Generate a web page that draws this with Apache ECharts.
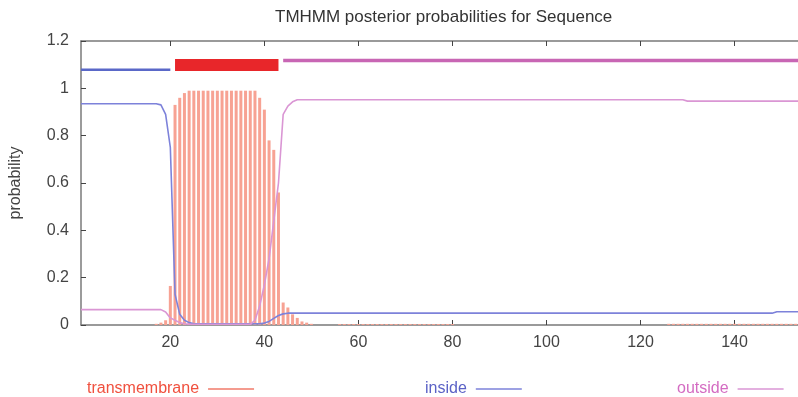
<!DOCTYPE html>
<html>
<head>
<meta charset="utf-8">
<script src="https://cdn.jsdelivr.net/npm/echarts@6/dist/echarts.min.js"></script>
<style>
  html, body { margin: 0; padding: 0; background: #fff; }
  #chart { width: 798px; height: 397px; }
</style>
</head>
<body>
<div id="chart"></div>
<script>
// tick labels on the sequence axis
const xTicks = [20, 40, 60, 80, 100, 120, 140]

// posterior probabilities, one value per residue (1..154)
const inside = [
  0.935, 0.935, 0.935, 0.935, 0.935, 0.935, 0.935, 0.935, 0.935, 0.935,
  0.935, 0.935, 0.935, 0.935, 0.935, 0.935, 0.935, 0.93, 0.89, 0.75,
  0.13, 0.045, 0.02, 0.01, 0.005, 0.005, 0.005, 0.005, 0.005, 0.005,
  0.005, 0.005, 0.005, 0.005, 0.005, 0.005, 0.005, 0.005, 0.005, 0.008,
  0.015, 0.028, 0.04, 0.047, 0.05, 0.05, 0.05, 0.05, 0.05, 0.05,
  0.05, 0.05, 0.05, 0.05, 0.05, 0.05, 0.05, 0.05, 0.05, 0.05,
  0.05, 0.05, 0.05, 0.05, 0.05, 0.05, 0.05, 0.05, 0.05, 0.05,
  0.05, 0.05, 0.05, 0.05, 0.05, 0.05, 0.05, 0.05, 0.05, 0.05,
  0.05, 0.05, 0.05, 0.05, 0.05, 0.05, 0.05, 0.05, 0.05, 0.05,
  0.05, 0.05, 0.05, 0.05, 0.05, 0.05, 0.05, 0.05, 0.05, 0.05,
  0.05, 0.05, 0.05, 0.05, 0.05, 0.05, 0.05, 0.05, 0.05, 0.05,
  0.05, 0.05, 0.05, 0.05, 0.05, 0.05, 0.05, 0.05, 0.05, 0.05,
  0.05, 0.05, 0.05, 0.05, 0.05, 0.05, 0.05, 0.05, 0.05, 0.05,
  0.05, 0.05, 0.05, 0.05, 0.05, 0.05, 0.05, 0.05, 0.05, 0.05,
  0.05, 0.05, 0.05, 0.05, 0.05, 0.05, 0.05, 0.05, 0.056, 0.056,
  0.056, 0.056, 0.056, 0.056
]

const outside = [
  0.065, 0.065, 0.065, 0.065, 0.065, 0.065, 0.065, 0.065, 0.065, 0.065,
  0.065, 0.065, 0.065, 0.065, 0.065, 0.065, 0.065, 0.065, 0.055, 0.03,
  0.02, 0.01, 0.005, 0.003, 0.003, 0.003, 0.003, 0.003, 0.003, 0.003,
  0.003, 0.003, 0.003, 0.003, 0.003, 0.003, 0.003, 0.02, 0.08, 0.17,
  0.28, 0.44, 0.6, 0.89, 0.925, 0.943, 0.952, 0.952, 0.952, 0.952,
  0.952, 0.952, 0.952, 0.952, 0.952, 0.952, 0.952, 0.952, 0.952, 0.952,
  0.952, 0.952, 0.952, 0.952, 0.952, 0.952, 0.952, 0.952, 0.952, 0.952,
  0.952, 0.952, 0.952, 0.952, 0.952, 0.952, 0.952, 0.952, 0.952, 0.952,
  0.952, 0.952, 0.952, 0.952, 0.952, 0.952, 0.952, 0.952, 0.952, 0.952,
  0.952, 0.952, 0.952, 0.952, 0.952, 0.952, 0.952, 0.952, 0.952, 0.952,
  0.952, 0.952, 0.952, 0.952, 0.952, 0.952, 0.952, 0.952, 0.952, 0.952,
  0.952, 0.952, 0.952, 0.952, 0.952, 0.952, 0.952, 0.952, 0.952, 0.952,
  0.952, 0.952, 0.952, 0.952, 0.952, 0.952, 0.952, 0.952, 0.952, 0.946,
  0.946, 0.946, 0.946, 0.946, 0.946, 0.946, 0.946, 0.946, 0.946, 0.946,
  0.946, 0.946, 0.946, 0.946, 0.946, 0.946, 0.946, 0.946, 0.946, 0.946,
  0.946, 0.946, 0.946, 0.946
]

const transmembrane = [
  0, 0, 0, 0, 0, 0, 0, 0, 0, 0,
  0, 0, 0, 0, 0, 0, 0.005, 0.01, 0.02, 0.165,
  0.93, 0.96, 0.98, 0.99, 0.99, 0.99, 0.99, 0.99, 0.99, 0.99,
  0.99, 0.99, 0.99, 0.99, 0.99, 0.99, 0.99, 0.99, 0.96, 0.91,
  0.78, 0.74, 0.56, 0.095, 0.074, 0.045, 0.03, 0.015, 0.01, 0.005,
  0, 0, 0, 0, 0, 0.004, 0.004, 0.004, 0.004, 0.004,
  0.004, 0.004, 0.004, 0.004, 0.004, 0.004, 0.004, 0.004, 0.004, 0.004,
  0.004, 0.004, 0.004, 0.004, 0.004, 0.004, 0.004, 0.004, 0.004, 0.004,
  0, 0, 0, 0, 0, 0, 0, 0, 0, 0,
  0, 0, 0, 0, 0, 0, 0, 0, 0, 0,
  0, 0, 0, 0, 0, 0, 0, 0, 0, 0,
  0, 0, 0, 0, 0, 0, 0, 0, 0, 0,
  0, 0, 0, 0, 0, 0.005, 0.005, 0.005, 0.005, 0.005,
  0.005, 0.005, 0.005, 0.005, 0.005, 0.005, 0.005, 0.005, 0.005, 0.005,
  0.005, 0.005, 0.005, 0.005, 0.005, 0.005, 0.005, 0.005, 0.005, 0.005,
  0.005, 0.005, 0.005, 0.005
]

// predicted topology drawn above the curves: [start, end] residues and level
const insideSeg = [1, 20]
const tmSeg = [21, 43]
const outsideSeg = [44, 154]
const insideLevel = 1.079
const tmLevel = 1.099
const outsideLevel = 1.118

const font = 'Liberation Sans, Arial, Helvetica, sans-serif'
const RED = '#e8262a'
const BLUE = '#7d82da'
const MAGENTA = '#da96d4'

const toPoints = arr => arr.map((v, i) => [i + 1, v])
const seg = (s, y) => [[s[0], y], [s[1], y]]

const axisColor = '#7a7a7a'

const legendItem = (left, name, textColor, iconColor) => ({
  left: left,
  top: 376,
  orient: 'horizontal',
  align: 'right',
  icon: 'rect',
  itemWidth: 46,
  itemHeight: 1.5,
  itemGap: 0,
  data: [{ name, itemStyle: { color: iconColor }, textStyle: { color: textColor } }],
  textStyle: { fontFamily: font, fontSize: 16, padding: [0, 4, 0, 0] },
  selectedMode: false
})

const option = {
  animation: false,
  backgroundColor: '#fff',
  title: {
    text: 'TMHMM posterior probabilities for Sequence',
    left: 270,
    top: 4,
    textStyle: { fontFamily: font, fontSize: 17, fontWeight: 'normal', color: '#333' }
  },
  legend: [
    legendItem(82, 'transmembrane', '#f0503e', '#f07a6a'),
    legendItem(420, 'inside', '#5b62c6', BLUE),
    legendItem(672, 'outside', '#d46cc2', MAGENTA)
  ],
  grid: { left: 81, right: 0, top: 41, bottom: 72 },
  xAxis: [{
    type: 'value',
    min: 1,
    max: 153.5,
    axisLine: { show: true, lineStyle: { color: axisColor, width: 1.5 } },
    axisTick: { show: true, inside: true, length: 5, customValues: xTicks, lineStyle: { color: '#444' } },
    axisLabel: { customValues: xTicks, margin: 10, fontFamily: font, fontSize: 16, color: '#444' },
    splitLine: { show: false }
  }, {
    type: 'value',
    position: 'top',
    min: 1,
    max: 153.5,
    axisLine: { show: true, onZero: false, lineStyle: { color: axisColor, width: 1.5 } },
    axisTick: { show: true, inside: true, length: 5, customValues: xTicks, lineStyle: { color: '#444' } },
    axisLabel: { show: false },
    splitLine: { show: false }
  }],
  yAxis: {
    type: 'value',
    min: 0,
    max: 1.2,
    interval: 0.2,
    name: 'probability',
    nameLocation: 'middle',
    nameRotate: 90,
    nameGap: 57,
    nameTextStyle: { fontFamily: font, fontSize: 16, color: '#444' },
    axisLine: { show: true, lineStyle: { color: axisColor, width: 1.5 } },
    axisTick: { show: true, inside: true, length: 5, lineStyle: { color: '#444' } },
    axisLabel: { margin: 12, fontFamily: font, fontSize: 16, color: '#444' },
    splitLine: { show: false }
  },
  series: [
    {
      name: 'transmembrane',
      type: 'bar',
      barWidth: 3,
      data: toPoints(transmembrane),
      itemStyle: { color: '#f7a293' },
      z: 2
    },
    {
      name: 'inside',
      type: 'line',
      data: toPoints(inside),
      showSymbol: false,
      lineStyle: { color: BLUE, width: 1.6 },
      itemStyle: { color: BLUE },
      z: 3
    },
    {
      name: 'outside',
      type: 'line',
      data: toPoints(outside),
      showSymbol: false,
      lineStyle: { color: MAGENTA, width: 1.6 },
      itemStyle: { color: MAGENTA },
      z: 3
    },
    {
      name: 'insideTop',
      type: 'line',
      data: seg(insideSeg, insideLevel),
      showSymbol: false,
      lineStyle: { color: '#5a68c8', width: 2.5 }
    },
    {
      name: 'tmTop',
      type: 'line',
      data: seg(tmSeg, tmLevel),
      showSymbol: false,
      lineStyle: { color: RED, width: 12, cap: 'butt' }
    },
    {
      name: 'outsideTop',
      type: 'line',
      data: seg(outsideSeg, outsideLevel),
      showSymbol: false,
      lineStyle: { color: '#c866b4', width: 3.5 }
    }
  ]
}

const myChart = echarts.init(document.getElementById('chart'))
myChart.setOption(option)
</script>
</body>
</html>
